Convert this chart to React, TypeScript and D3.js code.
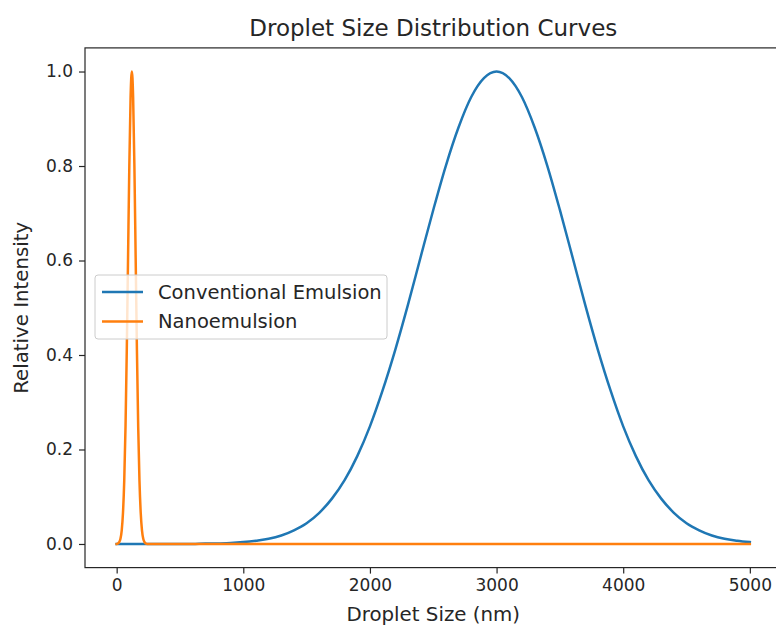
import * as d3 from 'd3';
import React, { useRef, useEffect } from 'react';

// droplet size (nm) sample points
const convX = [0, 100, 200, 300, 400, 500, 600, 700, 800, 900,
    1000, 1100, 1200, 1300, 1400, 1500, 1600, 1700, 1800, 1900,
    2000, 2100, 2200, 2300, 2400, 2500, 2600, 2700, 2800, 2900,
    3000, 3100, 3200, 3300, 3400, 3500, 3600, 3700, 3800, 3900,
    4000, 4100, 4200, 4300, 4400, 4500, 4600, 4700, 4800, 4900, 5000];
const convY = [0, 0, 0, 0, 0, 0, 0, 0.001, 0.001, 0.002,
    0.004, 0.007, 0.011, 0.018, 0.029, 0.044, 0.066, 0.096, 0.135, 0.186,
    0.249, 0.325, 0.411, 0.506, 0.607, 0.707, 0.801, 0.882, 0.946, 0.986,
    1.0, 0.986, 0.946, 0.882, 0.801, 0.707, 0.607, 0.506, 0.411, 0.325,
    0.249, 0.186, 0.135, 0.096, 0.066, 0.044, 0.029, 0.018, 0.011, 0.007, 0.004];

const nanoX = [0, 10, 20, 30, 40, 50, 60, 70, 80, 90, 100, 110, 120,
    130, 140, 150, 160, 170, 180, 190, 200, 210, 220, 230, 240, 250, 260,
    500, 1000, 1500, 2000, 2500, 3000, 3500, 4000, 4500, 5000];
const nanoY = [0, 0.001, 0.004, 0.011, 0.029, 0.066, 0.135, 0.249, 0.411, 0.607, 0.801, 0.946, 1.0,
    0.946, 0.801, 0.607, 0.411, 0.249, 0.135, 0.066, 0.029, 0.011, 0.004, 0.001, 0, 0, 0,
    0, 0, 0, 0, 0, 0, 0, 0, 0, 0];

const xTicks = [0, 1000, 2000, 3000, 4000, 5000];
const yTicks = [0, 0.2, 0.4, 0.6, 0.8, 1.0];
const seriesNames = ["Conventional Emulsion", "Nanoemulsion"];
const colors = ["#1f77b4", "#ff7f0e"];

export default function App() {
    const ref = useRef<SVGSVGElement>(null);
    const width = 776;
    const height = 627;
    const left = 85, right = 781.5, top = 47.9, bottom = 567.6;
    const font = "DejaVu Sans, sans-serif";
    const ink = "#262626";

    useEffect(() => {
        const svg = d3.select(ref.current);
        svg.selectAll("*").remove();

        const x = d3.scaleLinear().domain([-250, 5250]).range([left, right]);
        const y = d3.scaleLinear().domain([-0.05, 1.05]).range([bottom, top]);

        svg.append("clipPath").attr("id", "plot-clip")
            .append("rect")
            .attr("x", left).attr("y", top)
            .attr("width", right - left).attr("height", bottom - top);

        const series = [
            convX.map((v, i) => [v, convY[i]]),
            nanoX.map((v, i) => [v, nanoY[i]]),
        ];
        const path = d3.line<number[]>()
            .x(d => x(d[0]))
            .y(d => y(d[1]))
            .curve(d3.curveMonotoneX);

        series.forEach((s, i) => {
            svg.append("path")
                .attr("d", path(s))
                .attr("fill", "none")
                .attr("stroke", colors[i])
                .attr("stroke-width", 2.5)
                .attr("stroke-linejoin", "round")
                .attr("stroke-linecap", "square")
                .attr("clip-path", "url(#plot-clip)");
        });

        // axes
        const xAxis = svg.append("g")
            .attr("transform", "translate(0," + bottom + ")")
            .call(d3.axisBottom(x).tickValues(xTicks).tickSize(6).tickPadding(5).tickFormat(d3.format("d")));
        const yAxis = svg.append("g")
            .attr("transform", "translate(" + left + ",0)")
            .call(d3.axisLeft(y).tickValues(yTicks).tickSize(6).tickPadding(6).tickFormat(d3.format(".1f")));

        [xAxis, yAxis].forEach(g => {
            g.select(".domain").remove();
            g.selectAll("line").attr("stroke", ink).attr("stroke-width", 1.2);
            g.selectAll("text")
                .attr("fill", ink)
                .style("font-family", font)
                .style("font-size", "17px");
        });

        // spines
        svg.append("rect")
            .attr("x", left).attr("y", top)
            .attr("width", right - left).attr("height", bottom - top)
            .attr("fill", "none")
            .attr("stroke", ink)
            .attr("stroke-width", 1.2);

        svg.append("text")
            .attr("x", (left + right) / 2).attr("y", 36)
            .attr("text-anchor", "middle")
            .attr("fill", ink)
            .style("font-family", font).style("font-size", "23px")
            .text("Droplet Size Distribution Curves");

        svg.append("text")
            .attr("x", (left + right) / 2).attr("y", 621)
            .attr("text-anchor", "middle")
            .attr("fill", ink)
            .style("font-family", font).style("font-size", "19.8px")
            .text("Droplet Size (nm)");

        svg.append("text")
            .attr("transform", "translate(28," + ((top + bottom) / 2) + ") rotate(-90)")
            .attr("text-anchor", "middle")
            .attr("fill", ink)
            .style("font-family", font).style("font-size", "19.8px")
            .text("Relative Intensity");

        // legend
        const lg = svg.append("g");
        lg.append("rect")
            .attr("x", 95).attr("y", 275)
            .attr("width", 292).attr("height", 64)
            .attr("rx", 3)
            .attr("fill", "white").attr("fill-opacity", 0.8)
            .attr("stroke", "#cccccc").attr("stroke-width", 1);
        seriesNames.forEach((name, i) => {
            const ly = 292 + i * 29.5;
            lg.append("line")
                .attr("x1", 102).attr("x2", 143)
                .attr("y1", ly).attr("y2", ly)
                .attr("stroke", colors[i]).attr("stroke-width", 2.5);
            lg.append("text")
                .attr("x", 158).attr("y", ly)
                .attr("dy", "0.35em")
                .attr("fill", ink)
                .style("font-family", font).style("font-size", "19.5px")
                .text(name);
        });
    }, []);

    return (
        <svg ref={ref} width={width} height={height}
            style={{ position: "absolute", left: 0, top: 0, background: "white" }}>
        </svg>
    );
}
